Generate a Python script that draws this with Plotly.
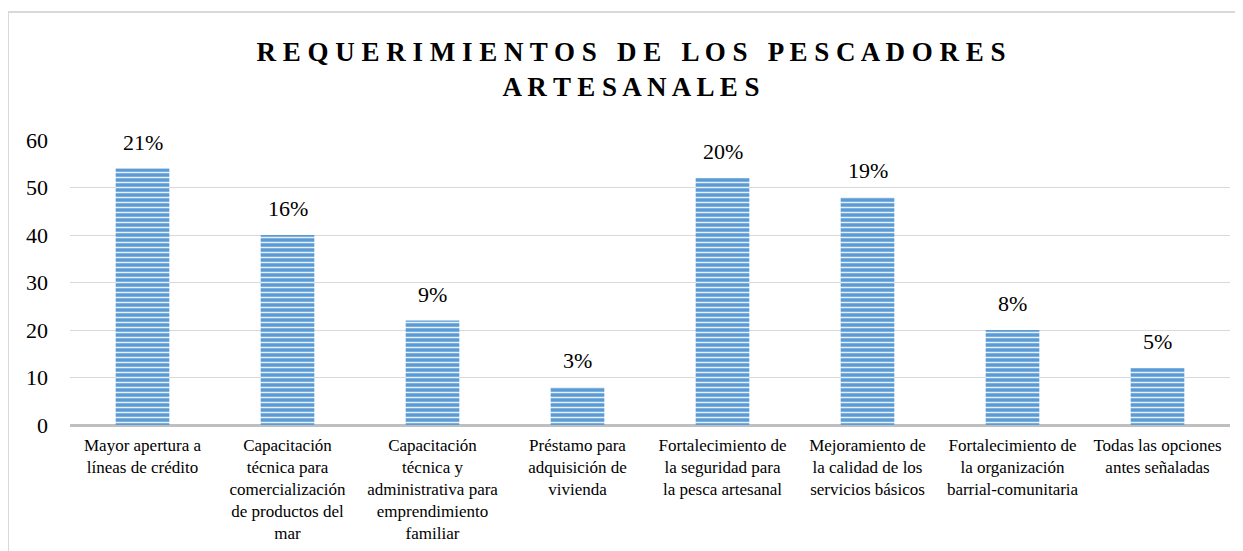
import plotly.graph_objects as go

# Data
categories = [
    "Mayor apertura a<br>líneas de crédito",
    "Capacitación<br>técnica para<br>comercialización<br>de productos del<br>mar",
    "Capacitación<br>técnica y<br>administrativa para<br>emprendimiento<br>familiar",
    "Préstamo para<br>adquisición de<br>vivienda",
    "Fortalecimiento de<br>la seguridad para<br>la pesca artesanal",
    "Mejoramiento de<br>la calidad de los<br>servicios básicos",
    "Fortalecimiento de<br>la organización<br>barrial-comunitaria",
    "Todas las opciones<br>antes señaladas",
]
counts = [54, 40, 22, 8, 52, 48, 20, 12]
pct_labels = ["21%", "16%", "9%", "3%", "20%", "19%", "8%", "5%"]
y_ticks = [0, 10, 20, 30, 40, 50, 60]

serif = "Liberation Serif, Times New Roman, Liberation Sans, Arial, sans-serif"


def spaced(s):
    # fake letter-spacing for the title (nbsp so the word gaps don't collapse)
    return " \u00a0\u00a0".join(" ".join(w) for w in s.split(" "))


fig = go.Figure()

fig.add_trace(go.Bar(
    x=categories,
    y=counts,
    width=0.37,
    marker=dict(
        color="#5b9bd5",
        line=dict(width=0),
        pattern=dict(shape="-", fgcolor="white", fgopacity=0.85, size=5, solidity=0.3),
    ),
    hoverinfo="skip",
))

# percentage labels above bars
for cat, val, lab in zip(categories, counts, pct_labels):
    fig.add_annotation(
        x=cat, y=val, text=lab, showarrow=False,
        yanchor="bottom", yshift=12,
        font=dict(family=serif, size=22, color="black"),
    )

title_text = "<b>" + spaced("REQUERIMIENTOS DE LOS PESCADORES") + "<br>" + spaced("ARTESANALES") + "</b>"

# page body has an 8px margin, so the figure is 8px smaller than the window
fig.update_layout(
    width=1235, height=543,
    paper_bgcolor="white", plot_bgcolor="white",
    margin=dict(l=62, r=13, t=132, b=126),
    title=dict(
        text=title_text, x=623 / 1235, xanchor="center",
        y=1 - 53 / 543, yanchor="top",
        font=dict(family=serif, size=27, color="black"),
    ),
    showlegend=False,
    xaxis=dict(
        tickfont=dict(family=serif, size=17, color="black"),
        showgrid=False, ticks="", showline=False,
        ticklabelstandoff=8, automargin=False,
    ),
    yaxis=dict(
        range=[0, 60], tickvals=y_ticks,
        tickfont=dict(family=serif, size=22, color="black"),
        showgrid=True, gridcolor="#d9d9d9", gridwidth=1.3,
        zeroline=True, zerolinecolor="#bfbfbf", zerolinewidth=3,
        showline=False, ticks="", ticklabelstandoff=21, automargin=False,
    ),
)

# chart-area border (left and top edges visible in reference)
fig.add_shape(type="line", xref="paper", yref="paper",
              x0=-62 / 1160, x1=-62 / 1160, y0=(417 - 4) / 285, y1=-1,
              line=dict(color="#d9d9d9", width=2))
fig.add_shape(type="line", xref="paper", yref="paper",
              x0=-62 / 1160, x1=1.02, y0=(417 - 4) / 285, y1=(417 - 4) / 285,
              line=dict(color="#d9d9d9", width=2))

fig.write_html("out.html")
